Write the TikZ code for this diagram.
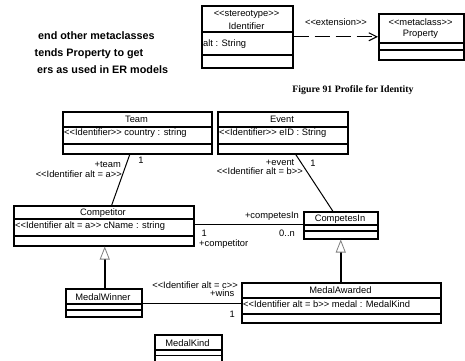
\documentclass[tikz,border=0pt]{standalone}
\usepackage{fontspec}
\setmainfont{Liberation Sans}
\newfontfamily\capfont{Liberation Serif}
\usetikzlibrary{arrows.meta}
\newcommand\uml[1]{<{}<#1>{}>}
\tikzset{
  umlbox/.style={draw, line width=1.5pt, inner sep=0pt, anchor=north west},
  lbl/.style={inner sep=0pt, font=\fontsize{9.35}{11}\selectfont, text height=6.7pt, text depth=0pt},
  lblw/.style={lbl, anchor=west},
  lble/.style={lbl, anchor=east},
  sepline/.style={line width=1.5pt},
  assoc/.style={line width=1.2pt},
  diag/.style={line width=1.0pt},
  gen/.style={line width=1.5pt, -{Triangle[open, length=13pt, width=10pt, line width=0.8pt, color=gray]}},
  ext/.style={line width=1.1pt, dash pattern=on 15pt off 6pt, -{Straight Barb[length=8pt, width=8pt, line width=1.1pt]}},
  note/.style={inner sep=0pt, anchor=base west, font=\bfseries\fontsize{10.8}{13}\selectfont},
}
\begin{document}
\begin{tikzpicture}[x=1pt, y=-1pt]
\useasboundingbox (0,0) rectangle (465,360);
\clip (0,0) rectangle (465,360);
\fill[white] (0,0) rectangle (465,360);

% bold note text (cut at the left edge)
\node[note] (n1) at (38,39) {end other metaclasses};
\node[note] (n2) at (34.5,56) {tends Property to get};
\node[note] (n3) at (37,73) {ers as used in ER models};

% profile: Identifier --extension--> Property
\node[umlbox, minimum width=91pt, minimum height=62pt] (ident) at (201,5) {};
\draw[sepline] (ident.west |- 0,32) -- (ident.east |- 0,32);
\draw[sepline] (ident.west |- 0,55) -- (ident.east |- 0,55);
\node[lbl] (identst) at (246.5,13.5) {\uml{stereotype}};
\node[lbl] (identnm) at (246.5,26) {Identifier};
\node[lblw] (identat) at (203,42.7) {alt : String};

\node[umlbox, minimum width=85pt, minimum height=46pt] (prop) at (378,13) {};
\draw[sepline] (prop.west |- 0,43) -- (prop.east |- 0,43);
\draw[sepline] (prop.west |- 0,50) -- (prop.east |- 0,50);
\node[lbl] (propst) at (420.5,22) {\uml{metaclass}};
\node[lbl] (propnm) at (420.5,33.5) {Property};

\draw[ext] (ident.east) -- (prop.west);
\node[lbl] (extlbl) at (336,22) {\uml{extension}};

\node[inner sep=0pt, font=\capfont\bfseries\fontsize{9.8}{12}\selectfont, text height=6.5pt, text depth=0pt] (cap) at (353,89) {Figure 91 Profile for Identity};

% Team
\node[umlbox, minimum width=149pt, minimum height=42pt] (team) at (62,111) {};
\draw[sepline] (team.west |- 0,127) -- (team.east |- 0,127);
\draw[sepline] (team.west |- 0,144) -- (team.east |- 0,144);
\node[lbl] (teamnm) at (136.5,119.5) {Team};
\node[lblw] (teamat) at (64,132) {\uml{Identifier} country : string};

% Event
\node[umlbox, minimum width=130pt, minimum height=42pt] (event) at (217,111) {};
\draw[sepline] (event.west |- 0,127) -- (event.east |- 0,127);
\draw[sepline] (event.west |- 0,144) -- (event.east |- 0,144);
\node[lbl] (eventnm) at (282,119.5) {Event};
\node[lblw] (eventat) at (219,132) {\uml{Identifier} eID : String};

% Competitor
\node[umlbox, minimum width=180pt, minimum height=40pt] (comp) at (13,205) {};
\draw[sepline] (comp.west |- 0,219) -- (comp.east |- 0,219);
\draw[sepline] (comp.west |- 0,236) -- (comp.east |- 0,236);
\node[lbl] (compnm) at (103,212) {Competitor};
\node[lblw] (compat) at (15,225.3) {\uml{Identifier alt = a} cName : string};

% CompetesIn
\node[umlbox, minimum width=74pt, minimum height=27pt] (cin) at (303,211) {};
\draw[sepline] (cin.west |- 0,225) -- (cin.east |- 0,225);
\draw[sepline] (cin.west |- 0,231) -- (cin.east |- 0,231);
\node[lbl] (cinnm) at (340,218.5) {CompetesIn};

% MedalWinner
\node[umlbox, minimum width=76pt, minimum height=28pt] (mw) at (65,288) {};
\draw[sepline] (mw.west |- 0,304) -- (mw.east |- 0,304);
\draw[sepline] (mw.west |- 0,310) -- (mw.east |- 0,310);
\node[lbl] (mwnm) at (103,297) {MedalWinner};

% MedalAwarded
\node[umlbox, minimum width=199pt, minimum height=40pt] (ma) at (241,282) {};
\draw[sepline] (ma.west |- 0,298) -- (ma.east |- 0,298);
\draw[sepline] (ma.west |- 0,314) -- (ma.east |- 0,314);
\node[lbl] (manm) at (340.5,290.3) {MedalAwarded};
\node[lblw] (maat) at (243,304) {\uml{Identifier alt = b} medal : MedalKind};

% MedalKind (cut at the bottom edge)
\node[umlbox, minimum width=67pt, minimum height=40pt] (mk) at (154,334) {};
\draw[sepline] (mk.west |- 0,350) -- (mk.east |- 0,350);
\draw[sepline] (mk.west |- 0,355.5) -- (mk.east |- 0,355.5);
\node[lbl] (mknm) at (187.5,343) {MedalKind};

% associations
\draw[diag] ([xshift=-7.5pt]team.south) -- ([xshift=8pt]comp.north);
\node[lble] (l1) at (121,164) {+team};
\node[lble] (l2) at (122,174) {\uml{Identifier alt = a}};
\node[lbl] (l3) at (141,160) {1};

\draw[diag] ([xshift=13pt]event.south) -- ([xshift=-8pt]cin.north);
\node[lble] (l4) at (294.5,162) {+event};
\node[lble] (l5) at (303,171) {\uml{Identifier alt = b}};
\node[lbl] (l6) at (313,163) {1};

\draw[assoc] ([yshift=1pt]comp.east) -- ([yshift=1pt]comp.east -| cin.west);
\node[lble] (l7) at (299,215.3) {+competesIn};
\node[lbl] (l8) at (204.3,232.8) {1};
\node[lblw] (l9) at (199,243) {+competitor};
\node[lbl] (l10) at (287,232.8) {0..n};

\draw[assoc] ([yshift=-1pt]mw.east) -- ([yshift=-1pt]mw.east -| ma.west);
\node[lble] (l11) at (238,285) {\uml{Identifier alt = c}};
\node[lble] (l12) at (234.5,293.3) {+wins};
\node[lbl] (l13) at (232.3,314) {1};

% generalizations
\draw[gen] ([xshift=1pt]mw.north) -- ([xshift=1pt]comp.south);
\draw[gen] (ma.north -| cin.south) -- (cin.south);
\end{tikzpicture}
\end{document}
